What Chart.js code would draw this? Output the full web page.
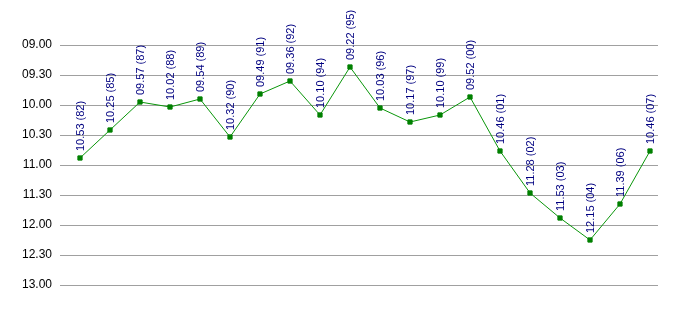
<!DOCTYPE html>
<html lang="en">
<head>
    <meta charset="UTF-8">
    <title>Times chart</title>
    <style>
        body {
            margin: 0;
            background: #ffffff;
        }
        #wrap {
            width: 698px;
            height: 315px;
        }
    </style>
</head>
<body>
    <div id="wrap">
        <canvas id="timeChart" width="698" height="315"></canvas>
    </div>

    <script src="https://cdn.jsdelivr.net/npm/chart.js"></script>
    <script>
        // values (hh.mm), one per year
        const times = ['10.53', '10.25', '09.57', '10.02', '09.54', '10.32', '09.49', '09.36', '10.10', '09.22',
                       '10.03', '10.17', '10.10', '09.52', '10.46', '11.28', '11.53', '12.15', '11.39', '10.46'];
        const years = ['82', '85', '87', '88', '89', '90', '91', '92', '94', '95',
                       '96', '97', '99', '00', '01', '02', '03', '04', '06', '07'];
        const tickLabels = ['09.00', '09.30', '10.00', '10.30', '11.00', '11.30', '12.00', '12.30', '13.00'];

        // hh.mm -> minutes after midnight
        function toMinutes(s) {
            const parts = s.split('.');
            return parseInt(parts[0], 10) * 60 + parseInt(parts[1], 10);
        }

        const points = times.map(function(t, i) {
            return { x: i, y: toMinutes(t) };
        });
        const yMin = toMinutes(tickLabels[0]);
        const yMax = toMinutes(tickLabels[tickLabels.length - 1]);

        // vertical labels above each point
        const pointLabels = {
            id: 'pointLabels',
            afterDatasetsDraw(chart) {
                const ctx = chart.ctx;
                const meta = chart.getDatasetMeta(0);
                ctx.save();
                ctx.font = '11px "Liberation Sans Narrow", "Liberation Sans", Arial, sans-serif';
                ctx.fillStyle = '#000080';
                ctx.textAlign = 'left';
                ctx.textBaseline = 'middle';
                meta.data.forEach(function(pt, i) {
                    ctx.save();
                    ctx.translate(pt.x + 1, pt.y - 7);
                    ctx.rotate(-Math.PI / 2);
                    ctx.fillText(times[i] + ' (' + years[i] + ')', 0, 0);
                    ctx.restore();
                });
                ctx.restore();
            }
        };

        new Chart(document.getElementById('timeChart'), {
            type: 'line',
            data: {
                datasets: [{
                    data: points,
                    borderColor: '#0a960a',
                    borderWidth: 1,
                    backgroundColor: '#008000',
                    pointStyle: 'rect',
                    pointRadius: 3,
                    pointBorderWidth: 1,
                    pointBorderColor: '#008000',
                    pointBackgroundColor: '#008000',
                    tension: 0
                }]
            },
            options: {
                responsive: false,
                animation: false,
                layout: {
                    padding: { top: 45, bottom: 30, right: 40, left: 0 }
                },
                plugins: {
                    legend: { display: false },
                    tooltip: { enabled: false }
                },
                scales: {
                    x: {
                        type: 'linear',
                        display: false,
                        min: -20 / 30,
                        max: 19 + 8 / 30
                    },
                    y: {
                        reverse: true,
                        min: yMin,
                        max: yMax,
                        afterFit: function(scale) { scale.width = 60; },
                        border: { display: false },
                        grid: {
                            color: '#a0a0a0',
                            lineWidth: 1,
                            drawTicks: false
                        },
                        ticks: {
                            stepSize: 30,
                            padding: 8,
                            color: '#000000',
                            font: { family: '"Liberation Sans Narrow", "Liberation Sans", Arial, sans-serif', size: 12 },
                            callback: function(value) {
                                const idx = (value - yMin) / 30;
                                return tickLabels[idx];
                            }
                        }
                    }
                }
            },
            plugins: [pointLabels]
        });
    </script>
</body>
</html>
